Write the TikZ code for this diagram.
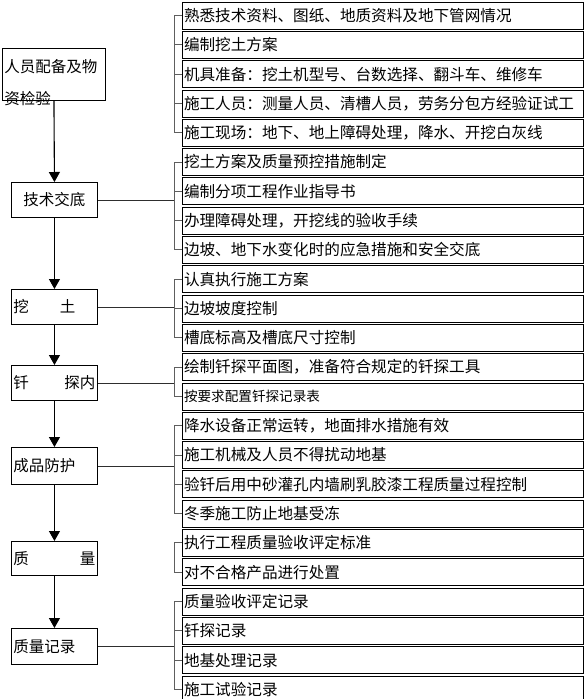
\documentclass[tikz,border=0pt]{standalone}
\usepackage{fontspec}
\newfontfamily\cjkfont{Noto Sans CJK SC}
\usetikzlibrary{arrows.meta,calc,positioning}
\definecolor{lineGray}{HTML}{2E2E2E}
\definecolor{bracketGray}{HTML}{5E5E5E}
\tikzset{
  font=\cjkfont,
  stepbox/.style={rectangle, draw=black, line width=0.9pt, fill=white, anchor=north west, text width=82pt, inner xsep=2pt, inner ysep=2pt, align=left, font=\cjkfont\fontsize{15.5}{18}\selectfont},
  itembox/.style={rectangle, draw=black, line width=0.8pt, fill=white, outer sep=0pt, minimum height=27pt, text width=397pt, inner xsep=2pt, inner ysep=0pt, align=left, font=\cjkfont\fontsize{15.6}{18}\selectfont},
  smallItem/.style={font=\cjkfont\fontsize{13.6}{16}\selectfont},
  flowarrow/.style={-{Triangle[length=10pt,width=11pt]}, draw=black, line width=1.1pt},
  link/.style={draw=lineGray, line width=0.9pt},
  bracket/.style={draw=bracketGray, line width=0.9pt}
}

\begin{document}
\begin{tikzpicture}[x=1pt,y=-1pt]
\useasboundingbox (0,0) rectangle (585,699);

% --------------------------------------------------------------------------
% Left column — steps
% --------------------------------------------------------------------------
\node[stepbox, text width=99pt, inner ysep=0pt, text height=24.5pt, text depth=27.5pt] (sStaff) at (2,48) {人员配备及物\\[14pt]资检验};
\node[stepbox, minimum height=35pt, align=center] (sBrief) at (11,182) {技术交底};
\node[stepbox, minimum height=35pt] (sDig) at (11,289) {挖\hspace{2em}土};
\node[stepbox, minimum height=35pt] (sProbe) at (11,365) {钎\hfill 探内};
\node[stepbox, minimum height=37pt] (sProtect) at (11,447) {成品防护};
\node[stepbox, minimum height=34pt] (sQuality) at (11,541) {质\hfill 量};
\node[stepbox, minimum height=36pt] (sRecord) at (11,628) {质量记录};

\draw[flowarrow] (sStaff.south) -- (sBrief.north);
\draw[flowarrow] (sBrief.south) -- (sDig.north);
\draw[flowarrow] (sDig.south) -- (sProbe.north);
\draw[flowarrow] (sProbe.south) -- (sProtect.north);
\draw[flowarrow] (sProtect.south) -- (sQuality.north);
\draw[flowarrow] (sQuality.south) -- (sRecord.north);

% --------------------------------------------------------------------------
% Right column — items of each step
% --------------------------------------------------------------------------
\node[itembox, anchor=north west] (iStaff1) at (182,2) {熟悉技术资料、图纸、地质资料及地下管网情况};
\node[itembox, below=2.3pt of iStaff1] (iStaff2) {编制挖土方案};
\node[itembox, below=2.3pt of iStaff2] (iStaff3) {机具准备：挖土机型号、台数选择、翻斗车、维修车};
\node[itembox, below=2.3pt of iStaff3] (iStaff4) {施工人员：测量人员、清槽人员，劳务分包方经验证试工};
\node[itembox, below=2.3pt of iStaff4] (iStaff5) {施工现场：地下、地上障碍处理，降水、开挖白灰线};

\node[itembox, below=2.3pt of iStaff5] (iBrief1) {挖土方案及质量预控措施制定};
\node[itembox, below=2.3pt of iBrief1] (iBrief2) {编制分项工程作业指导书};
\node[itembox, below=2.3pt of iBrief2] (iBrief3) {办理障碍处理，开挖线的验收手续};
\node[itembox, below=2.3pt of iBrief3] (iBrief4) {边坡、地下水变化时的应急措施和安全交底};

\node[itembox, below=2.3pt of iBrief4] (iDig1) {认真执行施工方案};
\node[itembox, below=2.3pt of iDig1] (iDig2) {边坡坡度控制};
\node[itembox, below=2.3pt of iDig2] (iDig3) {槽底标高及槽底尺寸控制};

\node[itembox, below=2.3pt of iDig3] (iProbe1) {绘制钎探平面图，准备符合规定的钎探工具};
\node[itembox, smallItem, below=2.3pt of iProbe1] (iProbe2) {按要求配置钎探记录表};

\node[itembox, below=2.3pt of iProbe2] (iProtect1) {降水设备正常运转，地面排水措施有效};
\node[itembox, below=2.3pt of iProtect1] (iProtect2) {施工机械及人员不得扰动地基};
\node[itembox, below=2.3pt of iProtect2] (iProtect3) {验钎后用中砂灌孔内墙刷乳胶漆工程质量过程控制};
\node[itembox, below=2.3pt of iProtect3] (iProtect4) {冬季施工防止地基受冻};

\node[itembox, below=2.3pt of iProtect4] (iQuality1) {执行工程质量验收评定标准};
\node[itembox, below=2.3pt of iQuality1] (iQuality2) {对不合格产品进行处置};

\node[itembox, below=2.3pt of iQuality2] (iRecord1) {质量验收评定记录};
\node[itembox, below=2.3pt of iRecord1] (iRecord2) {钎探记录};
\node[itembox, below=2.3pt of iRecord2] (iRecord3) {地基处理记录};
\node[itembox, below=2.3pt of iRecord3] (iRecord4) {施工试验记录};

% --------------------------------------------------------------------------
% Brackets and links
% --------------------------------------------------------------------------
\coordinate (gStaff) at ($(iStaff1.west)+(-8,0)$);
\draw[bracket] (iStaff1.west) -- (gStaff) |- (iStaff5.west);
\draw[bracket] (iStaff2.west) -- (iStaff2.west -| gStaff);
\draw[bracket] (iStaff3.west) -- (iStaff3.west -| gStaff);
\draw[bracket] (iStaff4.west) -- (iStaff4.west -| gStaff);
\draw[link] ($(sStaff.east)+(0,-6)$) -- ($(sStaff.east)+(0,-6)$ -| gStaff);

\coordinate (gBrief) at ($(iBrief1.west)+(-8,0)$);
\draw[bracket] (iBrief1.west) -- (gBrief) |- (iBrief4.west);
\draw[bracket] (iBrief2.west) -- (iBrief2.west -| gBrief);
\draw[bracket] (iBrief3.west) -- (iBrief3.west -| gBrief);
\draw[link] (sBrief.east) -- (sBrief.east -| gBrief);

\coordinate (gDig) at ($(iDig1.west)+(-8,0)$);
\draw[bracket] (iDig1.west) -- (gDig) |- (iDig3.west);
\draw[bracket] (iDig2.west) -- (iDig2.west -| gDig);
\draw[link] (sDig.east) -- (sDig.east -| gDig);

\coordinate (gProbe) at ($(iProbe1.west)+(-8,0)$);
\draw[bracket] (iProbe1.west) -- (gProbe) |- (iProbe2.west);
\draw[link] (sProbe.east) -- (sProbe.east -| gProbe);

\coordinate (gProtect) at ($(iProtect1.west)+(-8,0)$);
\draw[bracket] (iProtect1.west) -- (gProtect) |- (iProtect4.west);
\draw[bracket] (iProtect2.west) -- (iProtect2.west -| gProtect);
\draw[bracket] (iProtect3.west) -- (iProtect3.west -| gProtect);
\draw[link] (sProtect.east) -- (sProtect.east -| gProtect);

\coordinate (gQuality) at ($(iQuality1.west)+(-8,0)$);
\draw[bracket] (iQuality1.west) -- (gQuality) |- (iQuality2.west);
\draw[link] ($(sQuality.east)+(0,-4)$) -- ($(sQuality.east)+(0,-4)$ -| gQuality);

\coordinate (gRecord) at ($(iRecord1.west)+(-8,0)$);
\draw[bracket] (iRecord1.west) -- (gRecord) |- (iRecord4.west);
\draw[bracket] (iRecord2.west) -- (iRecord2.west -| gRecord);
\draw[bracket] (iRecord3.west) -- (iRecord3.west -| gRecord);
\draw[link] (sRecord.east) -- (sRecord.east -| gRecord);

\end{tikzpicture}
\end{document}
